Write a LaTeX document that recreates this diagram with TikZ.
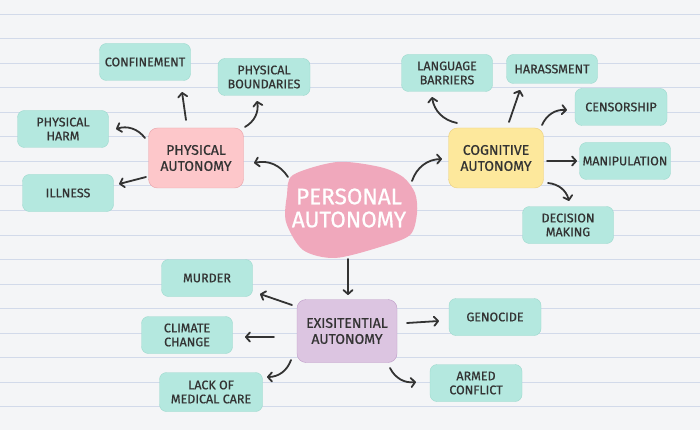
\documentclass[tikz,border=0pt]{standalone}
\usepackage{fontspec}
\setmainfont{Fira Sans}[FakeBold=0.7]
\usetikzlibrary{arrows.meta, positioning, calc}

\definecolor{paper}{HTML}{F4F5F7}
\definecolor{ruleblue}{HTML}{D2DAEA}
\definecolor{ink}{HTML}{333333}
\definecolor{leaffill}{HTML}{B4E8DF}
\definecolor{leafline}{HTML}{9CD9CD}
\definecolor{physfill}{HTML}{FDC7CA}
\definecolor{physline}{HTML}{E8A2A8}
\definecolor{cogfill}{HTML}{FDE89C}
\definecolor{cogline}{HTML}{EBCF7E}
\definecolor{exisfill}{HTML}{DCC5E1}
\definecolor{exisline}{HTML}{BE9BC7}
\definecolor{blobpink}{HTML}{F0A8BC}

\begin{document}
\begin{tikzpicture}[
    x=1pt, y=-1pt,
    leaf/.style={rectangle, draw=leafline, fill=leaffill, rounded corners=7pt, minimum width=91pt, minimum height=37pt, inner sep=3pt, align=center, text=ink, font=\fontsize{12.5}{14}\selectfont},
    branch/.style={rectangle, draw, rounded corners=9pt, minimum width=95pt, minimum height=60pt, align=center, text=ink, font=\fontsize{14}{16}\selectfont},
    centre/.style={align=center, text=white, font=\fontsize{22.5}{23}\selectfont},
    data/.style={-{Straight Barb[length=4pt, width=9pt, round]}, line width=1.8pt, draw=ink, line cap=round, bend angle=35},
    rule/.style={draw=ruleblue, line width=0.9pt}
]
    % Lined paper
    \useasboundingbox (0,0) rectangle (700,430);
    \fill[paper] (0,0) rectangle (700,430);
    \foreach \k in {0,...,17}
        \draw[rule] (0,{14+24.55*\k}) -- (700,{14+24.55*\k});

    % Central blob
    \coordinate (pc) at (349,208);
    \fill[blobpink, shift={(pc)}] plot[smooth cycle] coordinates {
        (-56,-33) (-12,-46) (31,-41) (54,-31) (66,-15) (68,5)
        (61,27) (31,39) (-14,50) (-46,42) (-63,14) (-62,-13)};
    \node[centre] (pers) at (pc) {PERSONAL\\AUTONOMY};

    % Branch blocks
    \node[branch, fill=physfill, draw=physline] (phys) at (196,158) {PHYSICAL\\AUTONOMY};
    \node[branch, fill=cogfill, draw=cogline] (cog) at (496,158) {COGNITIVE\\AUTONOMY};
    \node[branch, fill=exisfill, draw=exisline, minimum width=100pt, minimum height=63pt] (exis) at (347,331) {EXISITENTIAL\\AUTONOMY};

    % Physical leaves
    \node[leaf] (conf) at (145,62) {CONFINEMENT};
    \node[leaf, minimum width=92pt] (bound) at (264,77) {PHYSICAL\\BOUNDARIES};
    \node[leaf] (harm) at (63,129) {PHYSICAL\\HARM};
    \node[leaf] (ill) at (68,193) {ILLNESS};

    % Cognitive leaves
    \node[leaf] (lang) at (447,73) {LANGUAGE\\BARRIERS};
    \node[leaf, minimum height=29pt] (har) at (552,69) {HARASSMENT};
    \node[leaf, minimum width=92pt] (cens) at (621,107) {CENSORSHIP};
    \node[leaf] (mani) at (625,161) {MANIPULATION};
    \node[leaf] (dec) at (568,225) {DECISION\\MAKING};

    % Existential leaves
    \node[leaf] (mur) at (207,278) {MURDER};
    \node[leaf] (clim) at (187,335) {CLIMATE\\CHANGE};
    \node[leaf, minimum width=103pt, minimum height=39pt] (lack) at (211,392) {LACK OF\\MEDICAL CARE};
    \node[leaf, minimum width=92pt] (geno) at (495,317) {GENOCIDE};
    \node[leaf, minimum width=92pt] (armed) at (476,383) {ARMED\\CONFLICT};

    % Arrows from the centre
    \draw[data] ($(pers)+(-61,-31)$) to[bend right] ($(phys)+(58,5)$);
    \draw[data] ($(pers)+(63,-27)$) to[bend left] ($(cog)+(-54,1)$);
    \draw[data] ($(pers)+(-1,51)$) -- ($(exis)+(1,-36)$);

    % Physical arrows
    \draw[data] ($(phys)+(-10,-38)$) -- ($(conf)+(37,30)$);
    \draw[data] ($(phys)+(49,-31)$) to[bend right] ($(bound)+(-7,24)$);
    \draw[data] ($(phys)+(-51,-20)$) to[bend right] ($(harm)+(53,0)$);
    \draw[data] ($(phys)+(-50,19)$) -- ($(ill)+(51,-9)$);

    % Cognitive arrows
    \draw[data] ($(cog)+(-39,-35)$) to[bend left] ($(lang)+(-15,24)$);
    \draw[data] ($(cog)+(13,-36)$) -- ($(har)+(-32,21)$);
    \draw[data] ($(cog)+(46,-33)$) to[bend left] ($(cens)+(-54,3)$);
    \draw[data] ($(cog)+(51,3)$) -- ($(mani)+(-48,0)$);
    \draw[data] ($(cog)+(52,25)$) to[bend left] ($(dec)+(1,-24)$);

    % Existential arrows
    \draw[data] ($(exis)+(-55,-26)$) -- ($(mur)+(53,16)$);
    \draw[data] ($(exis)+(-73,6)$) -- ($(clim)+(58,2)$);
    \draw[data] ($(exis)+(-56,29)$) to[bend left] ($(lack)+(56,-15)$);
    \draw[data] ($(exis)+(60,-8)$) -- ($(geno)+(-56,4)$);
    \draw[data] ($(exis)+(43,37)$) to[bend right] ($(armed)+(-60,-1)$);

\end{tikzpicture}
\end{document}
